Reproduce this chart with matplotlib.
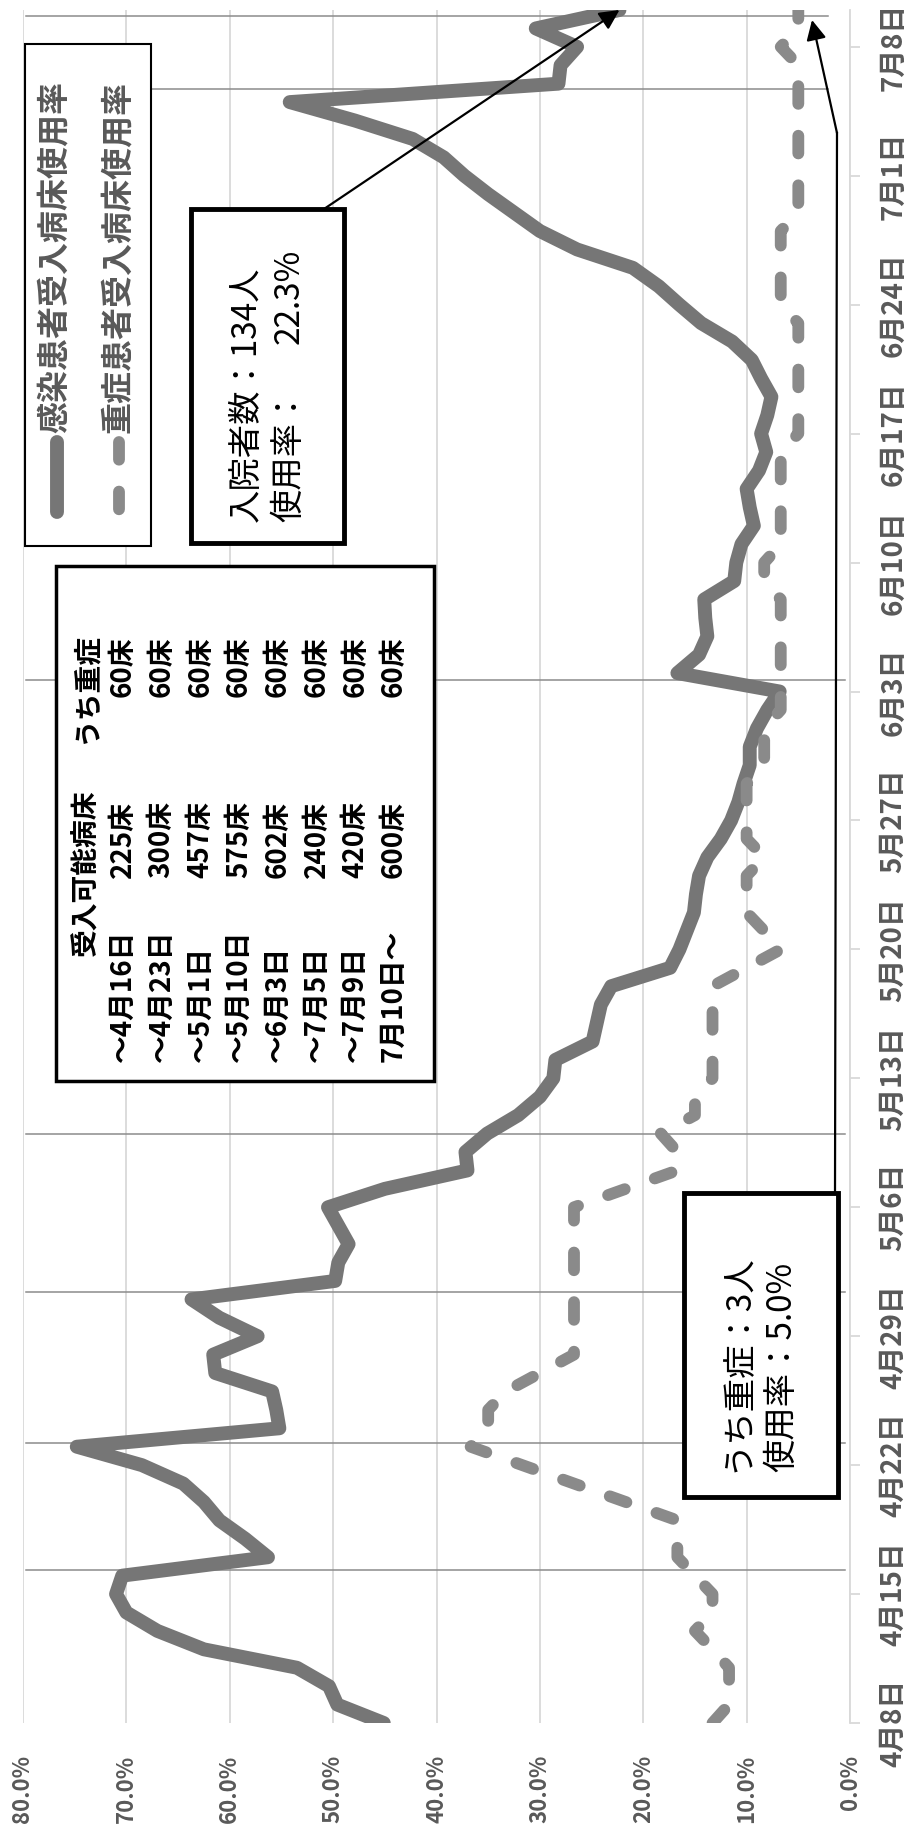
import matplotlib
matplotlib.use('Agg')
import matplotlib.pyplot as plt
import numpy as np
from matplotlib.patches import Rectangle
from matplotlib.lines import Line2D

plt.rcParams['font.family'] = ['Noto Sans CJK JP', 'DejaVu Sans']

W, H = 911, 1843

# 感染患者受入病床使用率 (%), one value per day from 4/8 to 7/10
infected_rate = [45.1, 49.6, 50.4, 53.5, 62.5, 67.0, 70.0, 71.0, 70.4, 56.3,
                 58.5, 61.0, 62.5, 64.5, 68.5, 74.8, 55.2, 55.5, 55.9, 61.4,
                 61.6, 57.3, 61.0, 63.7, 49.8, 49.5, 48.5, 49.5, 50.5, 45.0,
                 37.0, 37.2, 35.1, 32.1, 30.0, 28.7, 28.5, 24.9, 24.5, 24.1,
                 23.1, 17.4, 16.5, 15.8, 15.1, 14.9, 14.6, 13.8, 12.5, 11.5,
                 10.8, 10.3, 9.7, 9.7, 9.0, 8.0, 6.8, 16.7, 14.6, 13.8,
                 14.0, 14.1, 11.2, 11.0, 10.5, 9.3, 9.7, 10.0, 8.8, 8.1,
                 8.6, 8.0, 7.6, 8.6, 9.5, 11.4, 14.4, 16.5, 18.5, 21.0,
                 26.4, 30.0, 32.5, 35.0, 37.3, 39.3, 42.3, 47.9, 54.2, 28.2,
                 28.0, 26.4, 30.4, 22.3]

# 重症患者受入病床使用率 (%)
severe_rate = [13.3, 11.7, 11.7, 11.7, 13.3, 15.0, 13.3, 13.3, 15.0, 16.7,
               16.7, 16.7, 21.7, 26.7, 31.7, 36.7, 35.0, 35.0, 33.3, 30.0,
               26.7, 26.7, 26.7, 26.7, 26.7, 26.7, 26.7, 26.7, 26.7, 21.7,
               16.7, 16.7, 18.3, 15.0, 15.0, 13.3, 13.3, 13.3, 13.3, 13.3,
               13.3, 10.0, 6.7, 8.3, 10.0, 10.0, 10.0, 8.3, 10.0, 10.0,
               10.0, 10.0, 8.3, 8.3, 8.3, 6.7, 6.7, 6.7, 6.7, 6.7,
               6.7, 6.7, 8.3, 8.3, 6.7, 6.7, 6.7, 6.7, 6.7, 6.7,
               5.0, 5.0, 5.0, 5.0, 5.0, 5.0, 5.0, 6.7, 6.7, 6.7,
               6.7, 6.7, 5.0, 5.0, 5.0, 5.0, 5.0, 5.0, 5.0, 5.0,
               5.0, 6.7, 5.0, 5.0]

date_ticks = [0, 7, 14, 21, 28, 35, 42, 49, 56, 63, 70, 77, 84, 91]
date_labels = ['4月8日', '4月15日', '4月22日', '4月29日', '5月6日', '5月13日', '5月20日',
               '5月27日', '6月3日', '6月10日', '6月17日', '6月24日', '7月1日', '7月8日']
value_ticks = [0, 10, 20, 30, 40, 50, 60, 70, 80]

# days on which the bed capacity changed (thin marker lines)
capacity_change_days = [8.3, 15.2, 23.4, 32.0, 56.6, 88.7, 92.7]

table_periods = ['～4月16日', '～4月23日', '～5月1日', '～5月10日', '～6月3日',
                 '～7月5日', '～7月9日', '7月10日～']
table_beds = ['225床', '300床', '457床', '575床', '602床', '240床', '420床', '600床']
table_severe = ['60床', '60床', '60床', '60床', '60床', '60床', '60床', '60床']

fig = plt.figure(figsize=(W / 100, H / 100), dpi=100)


def fx(x):
    return x / W


def fy(y):
    return 1 - y / H


ax = fig.add_axes([fx(23), fy(1723), (850 - 23) / W, (1723 - 10) / H])
days = np.arange(len(infected_rate))

ax.plot(np.array(infected_rate) / 100, days, color='#767676', lw=10,
        solid_joinstyle='round', solid_capstyle='round', zorder=4)
ax.plot(np.array(severe_rate) / 100, days, color='#8a8a8a', lw=8.5,
        dashes=(1.5, 2.7), dash_capstyle='round', dash_joinstyle='round', zorder=4)

# capacity change markers
ytr = ax.get_yaxis_transform()
for i, d in enumerate(capacity_change_days):
    x_end = 0.973 if i >= 5 else 0.994
    ax.plot([0.004, x_end], [d, d], color='#8c8c8c', lw=1.1, transform=ytr, zorder=3)

ax.set_xlim(0.8, 0)
ax.set_ylim(0, 93)
ax.set_xticks([v / 100 for v in value_ticks], [f'{v:.1f}%' for v in value_ticks])
ax.set_yticks(date_ticks, date_labels)
ax.yaxis.tick_right()
ax.grid(axis='x', color='#d9d9d9', lw=1.3, zorder=0)
ax.tick_params(axis='x', length=0, pad=23, labelsize=16, labelcolor='#595959', labelrotation=90)
ax.tick_params(axis='y', direction='out', length=7.2, width=1.3, color='#d9d9d9', pad=14,
               labelsize=20, labelcolor='#595959', labelrotation=90)
for lbl in ax.get_xticklabels():
    lbl.set_fontweight('bold')
for lbl in ax.get_yticklabels():
    lbl.set_fontweight('bold')
    lbl.set_va('center')
for s in ['left', 'top', 'bottom']:
    ax.spines[s].set_visible(False)
ax.spines['right'].set_color('#d9d9d9')
ax.spines['right'].set_linewidth(1.3)


def box(x0, y0, x1, y1, lw):
    fig.add_artist(Rectangle((fx(x0), fy(y1)), (x1 - x0) / W, (y1 - y0) / H,
                             transform=fig.transFigure, facecolor='white',
                             edgecolor='black', lw=lw, zorder=5))


# legend
box(25, 44, 151, 546, 1.5)
fig.text(fx(55), fy(433), '感染患者受入病床使用率', rotation=90, ha='center', va='bottom',
         fontsize=23, fontweight='bold', color='#595959', zorder=6)
fig.text(fx(118), fy(433), '重症患者受入病床使用率', rotation=90, ha='center', va='bottom',
         fontsize=23, fontweight='bold', color='#595959', zorder=6)
fig.add_artist(Line2D([fx(57), fx(57)], [fy(442), fy(512)], transform=fig.transFigure,
                      color='#767676', lw=10, solid_capstyle='round', zorder=6))
fig.add_artist(Line2D([fx(119), fx(119)], [fy(442), fy(512)], transform=fig.transFigure,
                      color='#8a8a8a', lw=8.5, dashes=(1.5, 2.7), dash_capstyle='round', zorder=6))

# annotation: total
box(191, 209, 344, 543, 3.5)
fig.text(fx(246), fy(522), '入院者数：134人', rotation=90, ha='center', va='bottom',
         fontsize=24, color='black', zorder=6)
fig.text(fx(289), fy(522), '使用率：', rotation=90, ha='center', va='bottom',
         fontsize=24, color='black', zorder=6)
fig.text(fx(289), fy(249), '22.3%', rotation=90, ha='center', va='top',
         fontsize=24, color='black', zorder=6)
ax.annotate('', xy=(infected_rate[-1] / 100, days[-1]), xycoords='data',
            xytext=(fx(324), fy(209)), textcoords='figure fraction',
            arrowprops=dict(arrowstyle='-|>', color='black', lw=1.6, mutation_scale=30,
                            shrinkA=0, shrinkB=0), annotation_clip=False, zorder=7)

# annotation: severe
box(684, 1193, 838, 1497, 3.5)
fig.text(fx(737), fy(1472), 'うち重症：3人', rotation=90, ha='center', va='bottom',
         fontsize=24, color='black', zorder=6)
fig.text(fx(782), fy(1472), '使用率：5.0%', rotation=90, ha='center', va='bottom',
         fontsize=24, color='black', zorder=6)
fig.add_artist(Line2D([fx(835), fx(837)], [fy(1193), fy(133)], transform=fig.transFigure,
                      color='black', lw=1.6, zorder=7))
ax.annotate('', xy=(fx(812), fy(20)), xycoords='figure fraction',
            xytext=(fx(837), fy(133)), textcoords='figure fraction',
            arrowprops=dict(arrowstyle='-|>', color='black', lw=1.6, mutation_scale=30,
                            shrinkA=0, shrinkB=0), annotation_clip=False, zorder=7)

# capacity table
box(56, 566, 434, 1081, 2.5)
fig.text(fx(86), fy(956), '受入可能病床', rotation=90, ha='center', va='bottom',
         fontsize=20, fontweight='bold', color='black', zorder=6)
fig.text(fx(86), fy(744), 'うち重症', rotation=90, ha='center', va='bottom',
         fontsize=20, fontweight='bold', color='black', zorder=6)
for i in range(len(table_beds)):
    x = 123 + 38.7 * i
    fig.text(fx(x), fy(1062), table_periods[i], rotation=90, ha='center', va='bottom',
             fontsize=20, fontweight='bold', color='black', zorder=6)
    fig.text(fx(x), fy(878), table_beds[i], rotation=90, ha='center', va='bottom',
             fontsize=20, fontweight='bold', color='black', zorder=6)
    fig.text(fx(x), fy(697), table_severe[i], rotation=90, ha='center', va='bottom',
             fontsize=20, fontweight='bold', color='black', zorder=6)

fig.savefig('out.png', dpi=100)
